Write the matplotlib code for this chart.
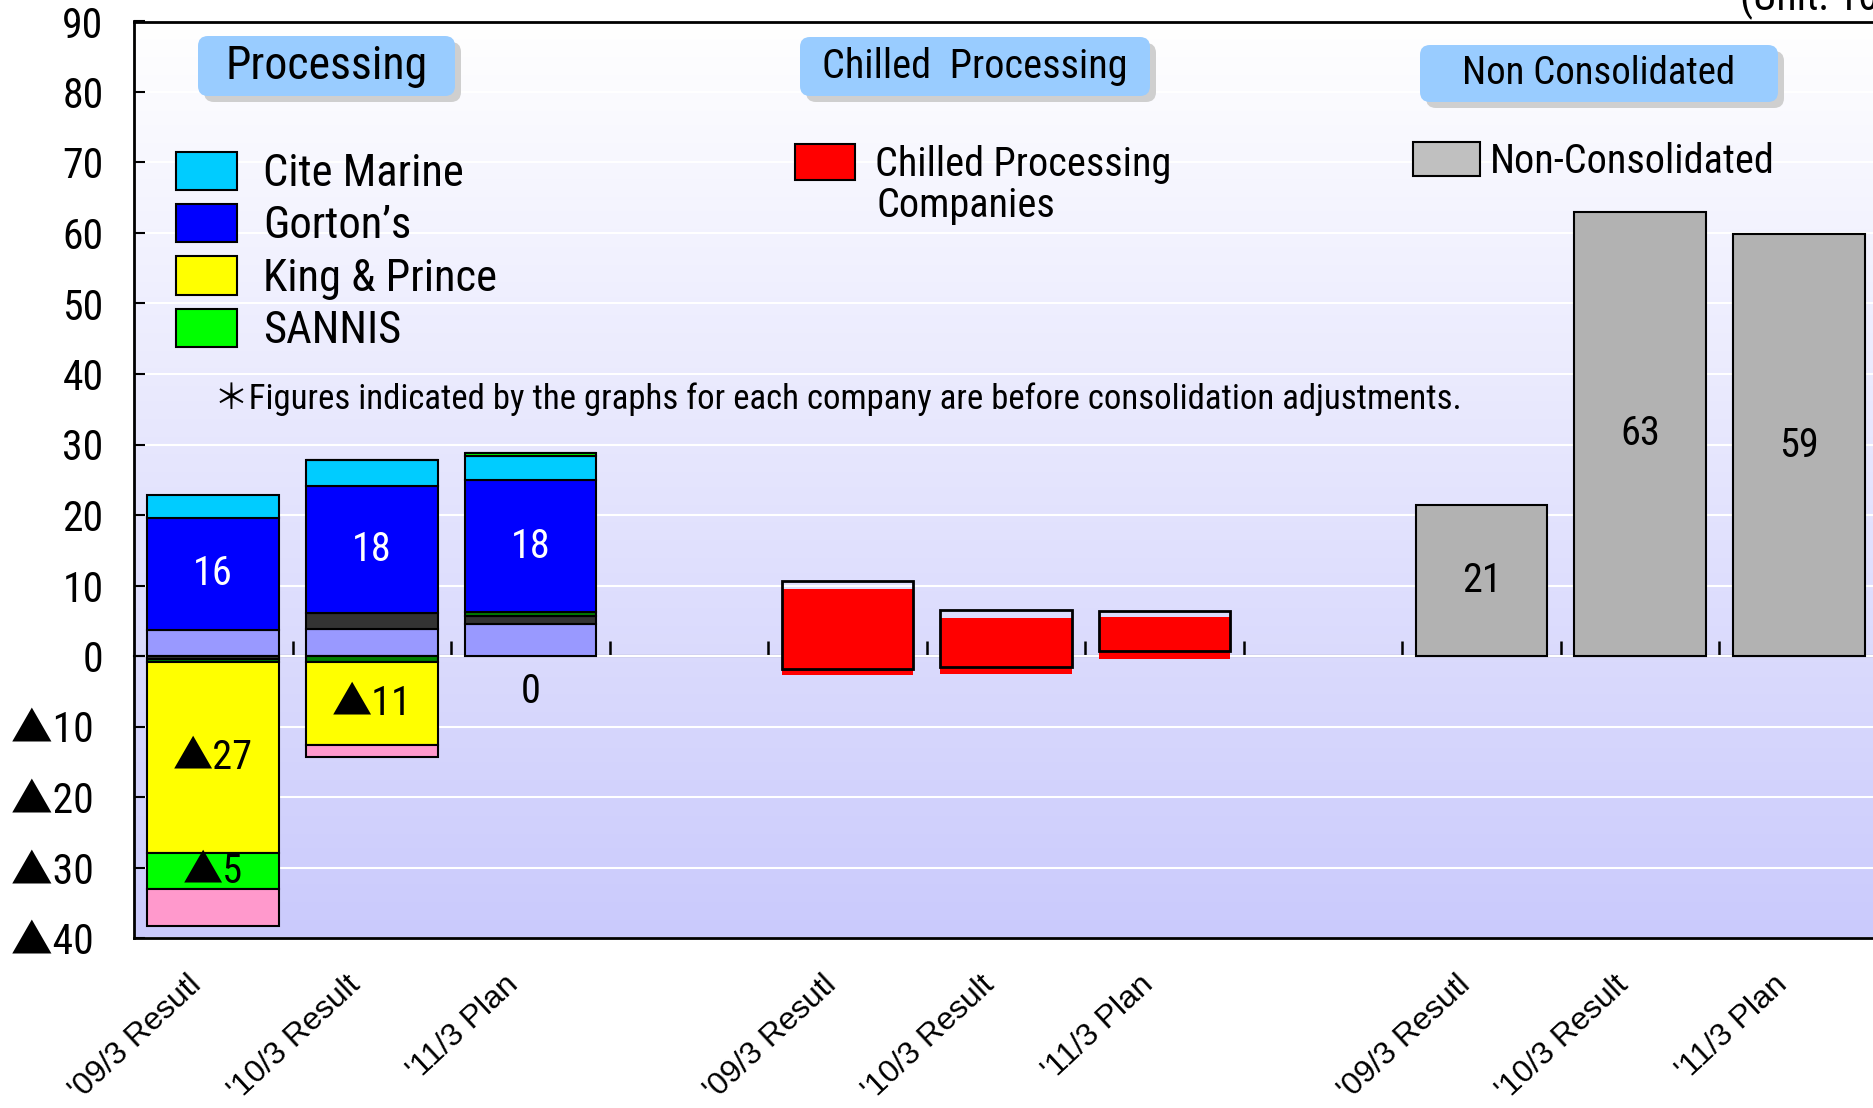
import numpy as np
import matplotlib
matplotlib.use("Agg")
import matplotlib.pyplot as plt
from matplotlib import font_manager as fm
from matplotlib.patches import Patch, FancyBboxPatch
from matplotlib.transforms import IdentityTransform, ScaledTranslation
from matplotlib.colors import LinearSegmentedColormap

# narrow font, close to the gothic used in the original slide
have = {f.name for f in fm.fontManager.ttflist}
cands = ["Roboto Condensed", "Liberation Sans Narrow", "Archivo Narrow", "DejaVu Sans"]
narrow = next((n for n in cands if n in have), "DejaVu Sans")
plt.rcParams['font.family'] = [narrow, 'Noto Sans CJK JP', 'DejaVu Sans']

# ---- data (100 million yen) ----
periods = ["'09/3 Resutl", "'10/3 Result", "'11/3 Plan"]
x_proc = [0, 1, 2]
x_chill = [4, 5, 6]
x_non = [8, 9, 10]

# Processing companies (stacked, before consolidation adjustments)
other_a = [3.7, 3.8, 4.6]        # light purple
other_b = [-0.4, 2.3, 1.1]       # dark gray
other_c = [-0.4, -0.8, 0.5]      # dark green
king_prince = [-27.1, -11.8, 0.0]
gortons = [15.9, 18.0, 18.8]
cite_marine = [3.2, 3.7, 3.3]
sannis = [-5.2, 0.0, 0.5]
other_d = [-5.2, -1.7, 0.0]      # pink

gortons_lbl = ["16", "18", "18"]
kp_lbl = ["▲27", "▲11", "0"]
sannis_lbl = ["▲5", "", ""]

# Chilled processing
chilled_pos = [9.5, 5.4, 5.6]
chilled_neg = [-2.7, -2.5, -0.4]
chilled_box_low = [-1.8, -1.5, 0.7]
chilled_box_high = [10.7, 6.5, 6.4]

# Non consolidated
non_cons = [21.4, 63.0, 59.8]
non_lbl = ["21", "63", "59"]

yticks = list(range(-40, 100, 10))
ylabels = [("▲%d " % -v) if v < 0 else str(v) for v in yticks]

W = 0.83

fig = plt.figure(figsize=(18.74, 11.08), dpi=100)
ax = fig.add_axes([134/1874, 1-938/1108, 1744/1874, 916.5/1108])

# background gradient
cmap = LinearSegmentedColormap.from_list("bg", ["#CACAFC", "#FFFFFF"])
ax.imshow(np.linspace(0, 1, 256).reshape(-1, 1), extent=[0, 1, 0, 1], origin='lower',
          transform=ax.transAxes, aspect='auto', cmap=cmap, zorder=-10)

# processing stack
series = [(other_a, '#9999FF'), (other_b, '#333333'), (other_c, '#008000'),
          (king_prince, '#FFFF00'), (gortons, '#0000FF'), (cite_marine, '#00CCFF'),
          (sannis, '#00FF00'), (other_d, '#FF99CC')]
pos_base = np.zeros(3)
neg_base = np.zeros(3)
centers = {}
for vals, col in series:
    v = np.array(vals)
    bottom = np.where(v >= 0, pos_base, neg_base)
    ax.bar(x_proc, v, W, bottom=bottom, color=col, edgecolor='black', lw=1.5, zorder=3)
    centers[id(vals)] = bottom + v / 2
    pos_base += np.clip(v, 0, None)
    neg_base += np.clip(v, None, 0)

for i, x in enumerate(x_proc):
    ax.text(x, centers[id(gortons)][i], gortons_lbl[i], color='white', fontsize=29,
            ha='center', va='center', zorder=5)
    ky = centers[id(king_prince)][i] if king_prince[i] != 0 else -5
    ax.text(x, ky, kp_lbl[i], fontsize=29, ha='center', va='center', zorder=5)
    if sannis_lbl[i]:
        ax.text(x, centers[id(sannis)][i], sannis_lbl[i], fontsize=29,
                ha='center', va='center', zorder=5)

# chilled
ax.bar(x_chill, chilled_pos, W, color='#FF0000', zorder=3)
ax.bar(x_chill, chilled_neg, W, color='#FF0000', zorder=3)
ax.bar(x_chill, np.array(chilled_box_high) - np.array(chilled_box_low), W,
       bottom=chilled_box_low, fill=False, edgecolor='black', lw=2, zorder=4)

# non consolidated
ax.bar(x_non, non_cons, W, color='#B2B2B2', edgecolor='black', lw=1.5, zorder=3)
for x, v, s in zip(x_non, non_cons, non_lbl):
    ax.text(x, v / 2, s, fontsize=29, ha='center', va='center', zorder=5)

ax.set_xlim(-0.5, 10.5)
ax.set_ylim(-40, 90)
ax.set_yticks(yticks)
ax.set_yticklabels(ylabels)
ax.tick_params(axis='y', direction='in', length=8, width=1.5, pad=22, labelsize=30)
ax.yaxis.grid(True, color='white', lw=1.5)
ax.set_axisbelow(True)

ax.set_xticks(x_proc + x_chill + x_non)
ax.set_xticklabels(periods * 3, fontsize=23, family=['Liberation Sans', 'DejaVu Sans'],
                   rotation=43, ha='right', va='top', rotation_mode='anchor')
ax.tick_params(axis='x', length=0, pad=23)
for lab in ax.get_xticklabels():
    lab.set_transform(lab.get_transform() + ScaledTranslation(-0.26, 0, fig.dpi_scale_trans))

for s in ['left', 'top', 'bottom']:
    ax.spines[s].set_linewidth(2)
ax.spines['right'].set_visible(False)

# zero line with inward boundary ticks
zero_ax = ax.secondary_xaxis(40 / 130)
zero_ax.set_xticks(np.arange(0.5, 10, 1))
zero_ax.tick_params(direction='in', length=11, width=1.8, labelbottom=False)
zero_ax.spines['bottom'].set_linewidth(1.5)

# header boxes (pixel boxes from top-left)
def header(x0, y0, w, h, txt, size):
    yb = 1108 - y0 - h
    sh = FancyBboxPatch((x0 + 6, yb - 6), w, h, boxstyle="round,pad=0,rounding_size=10",
                        fc='#CFCFCF', ec='none', transform=IdentityTransform())
    bx = FancyBboxPatch((x0, yb), w, h, boxstyle="round,pad=0,rounding_size=10",
                        fc='#99CCFF', ec='none', transform=IdentityTransform())
    fig.add_artist(sh)
    fig.add_artist(bx)
    fig.text((x0 + w / 2) / 1874, (yb + h / 2) / 1108, txt, fontsize=size,
             ha='center', va='center')

header(198, 36, 257, 60, "Processing", 33)
header(800, 37, 350, 59, "Chilled  Processing", 29)
header(1420, 45, 358, 57, "Non Consolidated", 28)

# legends
kw = dict(frameon=False, borderpad=0, borderaxespad=0)
h1 = [Patch(fc=c, ec='black', lw=1.5) for c in ['#00CCFF', '#0000FF', '#FFFF00', '#00FF00']]
leg1 = ax.legend(h1, ["Cite Marine", "Gorton’s", "King & Prince", "SANNIS"], fontsize=32,
                 loc='upper left', bbox_to_anchor=(0.024, 0.858), handlelength=1.37,
                 handleheight=0.95, labelspacing=0.2, handletextpad=0.6, **kw)
ax.add_artist(leg1)
leg2 = ax.legend([Patch(fc='#FF0000', ec='black', lw=1.5)], ["Chilled Processing"],
                 fontsize=29, loc='upper left', bbox_to_anchor=(0.379, 0.866),
                 handlelength=1.5, handleheight=0.97, handletextpad=0.48, **kw)
ax.add_artist(leg2)
ax.text(0.4255, 0.799, "Companies", transform=ax.transAxes, fontsize=29,
        ha='left', va='center')
ax.legend([Patch(fc='#C0C0C0', ec='black', lw=1.5)], ["Non-Consolidated"], fontsize=29,
          loc='upper left', bbox_to_anchor=(0.7335, 0.869), handlelength=1.65,
          handleheight=0.95, handletextpad=0.25, **kw)

ax.text(0.046, 0.588, "＊Figures indicated by the graphs for each company are before consolidation adjustments.",
        transform=ax.transAxes, fontsize=25, va='center', ha='left')

fig.text(1740 / 1874, 1 - 10 / 1108, "(Unit: 100 million yen)", fontsize=30,
         va='baseline', ha='left')

fig.savefig("out.png", dpi=100)
